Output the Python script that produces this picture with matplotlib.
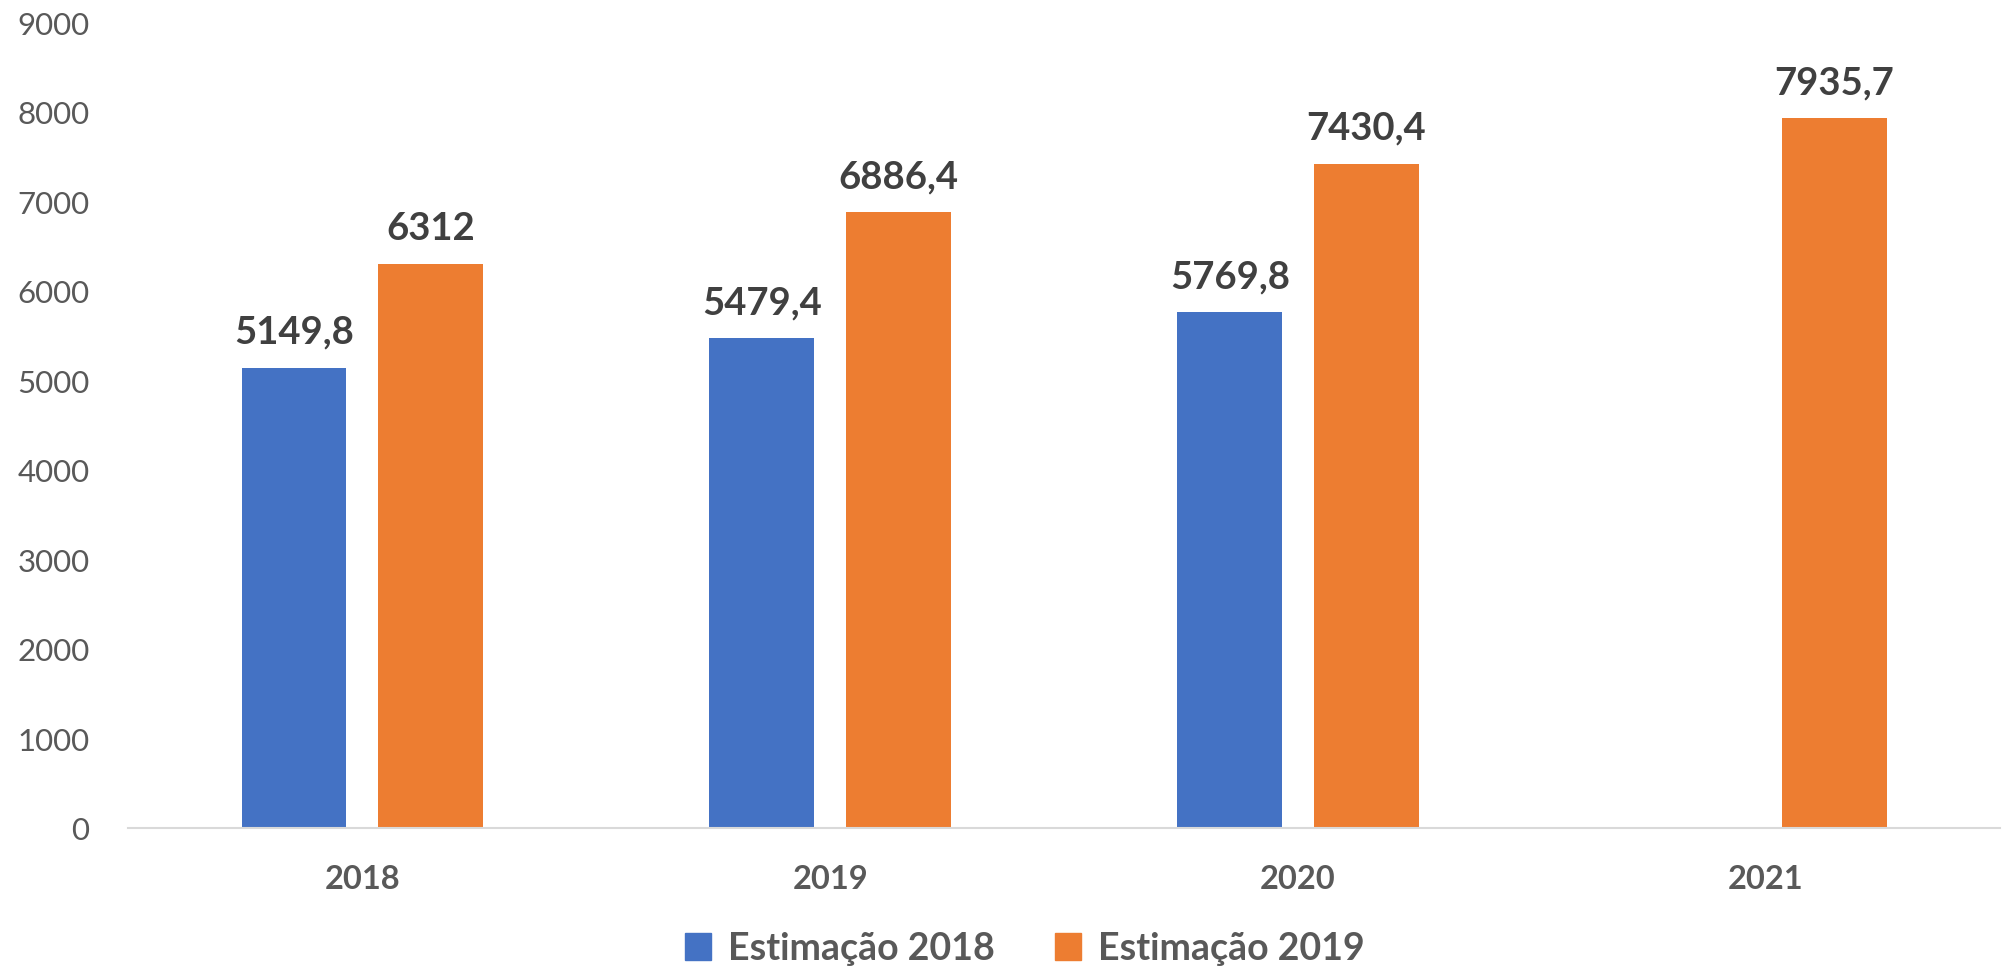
import numpy as np
import matplotlib
matplotlib.use("Agg")
import matplotlib.pyplot as plt
from matplotlib.patches import Patch

plt.rcParams['font.family'] = ['Lato', 'DejaVu Sans']

years = ["2018", "2019", "2020", "2021"]
est_2018 = [5149.8, 5479.4, 5769.8, None]
est_2019 = [6312, 6886.4, 7430.4, 7935.7]
series_names = ["Estimação 2018", "Estimação 2019"]
colors = ["#4472C4", "#ED7D31"]
yticks = [0, 1000, 2000, 3000, 4000, 5000, 6000, 7000, 8000, 9000]


def fmt(v):
    # formato português: vírgula decimal
    if float(v).is_integer():
        return str(int(v))
    return f"{v:.1f}".replace(".", ",")


fig = plt.figure(figsize=(20.05, 9.69), dpi=100)
ax = fig.add_axes([0.064, 0.145, 0.9335, 0.831])

x = np.arange(len(years))
w = 0.224
off = 0.146

for vals, shift, col in [(est_2018, -off, colors[0]), (est_2019, off, colors[1])]:
    for xi, v in zip(x, vals):
        if v is None:
            continue
        ax.bar(xi + shift, v, width=w, color=col)
        ax.annotate(fmt(v), (xi + shift, v), xytext=(0, 13), textcoords="offset points",
                    ha="center", va="bottom", fontsize=27.5, fontweight="bold", color="#404040")

ax.set_xlim(-0.5, len(years) - 0.5)
ax.set_ylim(0, 9000)
ax.set_yticks(yticks)
ax.set_yticklabels([str(t) for t in yticks], fontsize=22.5, color="#595959")
ax.set_xticks(x)
ax.set_xticklabels(years, fontsize=23.5, fontweight="bold", color="#595959")
ax.tick_params(axis="both", length=0)
ax.tick_params(axis="x", pad=26)
ax.tick_params(axis="y", pad=28)

for s in ["top", "right", "left"]:
    ax.spines[s].set_visible(False)
ax.spines["bottom"].set_color("#D9D9D9")
ax.spines["bottom"].set_linewidth(1.5)

handles = [Patch(color=c, label=n) for c, n in zip(colors, series_names)]
fig.legend(handles=handles, loc="center", bbox_to_anchor=(0.511, 0.021), ncol=2, frameon=False,
           prop={"size": 27, "weight": "bold"}, labelcolor="#595959",
           handlelength=0.7, handleheight=0.7, handletextpad=0.45, columnspacing=1.6)

fig.savefig("out.png", dpi=100)
